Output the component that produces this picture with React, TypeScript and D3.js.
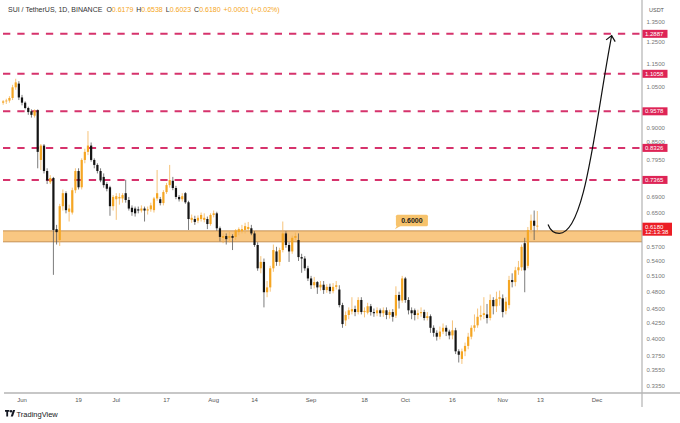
import React from 'react';
import * as d3 from 'd3';

// open, high, low, close
type Candle = [number, number, number, number];

const firstDay = new Date(2023, 4, 26);

const candlesMayJune: Candle[] = [
  [0.990, 1.000, 0.982, 0.995], [0.995, 1.005, 0.985, 0.998], [0.998, 1.015, 0.990, 1.008],
  [1.008, 1.060, 1.000, 1.050], [1.050, 1.085, 1.040, 1.070], [1.065, 1.075, 1.000, 1.010],
  [1.010, 1.020, 0.980, 0.990], [0.990, 0.995, 0.965, 0.970], [0.970, 0.975, 0.945, 0.955],
  [0.958, 0.965, 0.935, 0.945], [0.942, 0.965, 0.935, 0.960], [0.962, 0.965, 0.770, 0.820],
  [0.795, 0.845, 0.765, 0.840], [0.840, 0.845, 0.755, 0.762], [0.762, 0.770, 0.725, 0.735],
  [0.730, 0.750, 0.725, 0.742], [0.742, 0.745, 0.512, 0.608], [0.610, 0.620, 0.575, 0.603],
  [0.585, 0.672, 0.572, 0.666], [0.666, 0.710, 0.655, 0.700], [0.700, 0.705, 0.648, 0.656],
  [0.652, 0.670, 0.628, 0.660], [0.650, 0.715, 0.645, 0.708], [0.708, 0.770, 0.700, 0.762],
  [0.762, 0.770, 0.710, 0.716], [0.716, 0.800, 0.710, 0.795], [0.795, 0.830, 0.785, 0.820],
  [0.820, 0.888, 0.810, 0.840], [0.840, 0.850, 0.790, 0.795], [0.795, 0.800, 0.770, 0.780],
  [0.780, 0.785, 0.755, 0.762], [0.762, 0.770, 0.730, 0.735], [0.745, 0.755, 0.715, 0.722],
  [0.725, 0.730, 0.705, 0.712], [0.716, 0.720, 0.642, 0.666], [0.666, 0.695, 0.655, 0.690],
];

const candlesJuly: Candle[] = [
  [0.684, 0.700, 0.632, 0.692], [0.686, 0.700, 0.670, 0.690], [0.686, 0.700, 0.675, 0.695],
  [0.700, 0.737, 0.675, 0.682], [0.682, 0.690, 0.655, 0.660], [0.662, 0.668, 0.642, 0.651],
  [0.660, 0.665, 0.640, 0.648], [0.658, 0.665, 0.648, 0.655], [0.655, 0.668, 0.650, 0.660],
  [0.660, 0.665, 0.628, 0.655], [0.655, 0.665, 0.645, 0.658], [0.658, 0.675, 0.652, 0.668],
  [0.656, 0.690, 0.650, 0.686], [0.686, 0.765, 0.680, 0.700], [0.684, 0.690, 0.668, 0.674],
  [0.674, 0.708, 0.668, 0.703], [0.703, 0.728, 0.698, 0.722], [0.722, 0.780, 0.715, 0.736],
  [0.734, 0.745, 0.708, 0.714], [0.714, 0.720, 0.684, 0.690], [0.690, 0.695, 0.678, 0.684],
  [0.684, 0.700, 0.678, 0.692], [0.700, 0.703, 0.672, 0.676], [0.676, 0.680, 0.608, 0.634],
  [0.632, 0.645, 0.625, 0.637], [0.634, 0.642, 0.620, 0.627], [0.630, 0.643, 0.624, 0.637],
  [0.634, 0.650, 0.628, 0.644], [0.632, 0.648, 0.626, 0.637], [0.634, 0.640, 0.610, 0.622],
  [0.622, 0.648, 0.618, 0.644],
];

const candlesAugust: Candle[] = [
  [0.644, 0.655, 0.638, 0.648], [0.648, 0.652, 0.606, 0.612], [0.612, 0.616, 0.582, 0.592],
  [0.590, 0.600, 0.578, 0.594], [0.594, 0.600, 0.575, 0.587], [0.590, 0.605, 0.580, 0.594],
  [0.594, 0.598, 0.563, 0.590], [0.592, 0.610, 0.585, 0.607], [0.603, 0.614, 0.596, 0.610],
  [0.605, 0.620, 0.600, 0.610], [0.608, 0.625, 0.600, 0.617], [0.610, 0.627, 0.605, 0.615],
  [0.612, 0.620, 0.596, 0.600], [0.600, 0.605, 0.570, 0.574], [0.574, 0.580, 0.520, 0.525],
  [0.525, 0.550, 0.515, 0.538], [0.538, 0.545, 0.452, 0.479], [0.479, 0.500, 0.470, 0.488],
  [0.488, 0.530, 0.480, 0.525], [0.525, 0.575, 0.518, 0.563], [0.560, 0.570, 0.530, 0.538],
  [0.538, 0.568, 0.530, 0.563], [0.563, 0.628, 0.558, 0.600], [0.600, 0.605, 0.568, 0.574],
  [0.574, 0.580, 0.538, 0.560], [0.560, 0.595, 0.555, 0.590], [0.590, 0.602, 0.585, 0.594],
  [0.585, 0.600, 0.540, 0.548], [0.548, 0.555, 0.516, 0.545], [0.545, 0.550, 0.520, 0.525],
  [0.525, 0.530, 0.500, 0.505],
];

const candlesSeptember: Candle[] = [
  [0.505, 0.510, 0.485, 0.492], [0.492, 0.508, 0.486, 0.498], [0.498, 0.500, 0.476, 0.488],
  [0.488, 0.500, 0.482, 0.493], [0.493, 0.500, 0.476, 0.483], [0.483, 0.494, 0.478, 0.489],
  [0.489, 0.495, 0.476, 0.481], [0.481, 0.496, 0.477, 0.489], [0.489, 0.500, 0.484, 0.492],
  [0.484, 0.492, 0.452, 0.456], [0.456, 0.460, 0.418, 0.424], [0.430, 0.445, 0.421, 0.439],
  [0.439, 0.452, 0.432, 0.447], [0.445, 0.470, 0.440, 0.449], [0.449, 0.455, 0.437, 0.444],
  [0.444, 0.470, 0.440, 0.465], [0.465, 0.470, 0.440, 0.444], [0.444, 0.452, 0.435, 0.446],
  [0.443, 0.460, 0.440, 0.454], [0.454, 0.458, 0.438, 0.444], [0.444, 0.450, 0.436, 0.442],
  [0.442, 0.452, 0.437, 0.447], [0.447, 0.450, 0.436, 0.442], [0.442, 0.452, 0.436, 0.447],
  [0.447, 0.452, 0.432, 0.439], [0.439, 0.448, 0.433, 0.444], [0.444, 0.449, 0.428, 0.436],
  [0.438, 0.490, 0.434, 0.474], [0.474, 0.480, 0.450, 0.464], [0.464, 0.510, 0.460, 0.505],
];

const candlesOctober: Candle[] = [
  [0.505, 0.508, 0.460, 0.465], [0.465, 0.470, 0.440, 0.447], [0.447, 0.452, 0.432, 0.442],
  [0.447, 0.450, 0.430, 0.439], [0.439, 0.448, 0.432, 0.442], [0.442, 0.452, 0.436, 0.444],
  [0.444, 0.448, 0.430, 0.434], [0.434, 0.444, 0.430, 0.437], [0.437, 0.440, 0.410, 0.418],
  [0.418, 0.422, 0.404, 0.410], [0.410, 0.414, 0.398, 0.404], [0.404, 0.420, 0.400, 0.412],
  [0.412, 0.425, 0.408, 0.418], [0.418, 0.422, 0.405, 0.412], [0.412, 0.415, 0.400, 0.406],
  [0.406, 0.430, 0.400, 0.414], [0.414, 0.418, 0.378, 0.382], [0.382, 0.385, 0.366, 0.377],
  [0.371, 0.386, 0.364, 0.382], [0.382, 0.395, 0.375, 0.390], [0.390, 0.410, 0.385, 0.404],
  [0.404, 0.422, 0.400, 0.418], [0.418, 0.440, 0.412, 0.422], [0.422, 0.450, 0.418, 0.436],
  [0.436, 0.455, 0.430, 0.439], [0.439, 0.470, 0.432, 0.442], [0.440, 0.458, 0.425, 0.434],
  [0.434, 0.475, 0.430, 0.465], [0.465, 0.470, 0.440, 0.454], [0.454, 0.480, 0.444, 0.467],
  [0.467, 0.482, 0.455, 0.470],
];

const candlesNovember: Candle[] = [
  [0.468, 0.475, 0.435, 0.444], [0.446, 0.470, 0.440, 0.462], [0.456, 0.510, 0.450, 0.502],
  [0.502, 0.515, 0.488, 0.498], [0.498, 0.528, 0.490, 0.521], [0.521, 0.540, 0.512, 0.527],
  [0.527, 0.575, 0.520, 0.570], [0.578, 0.590, 0.479, 0.521], [0.530, 0.615, 0.525, 0.608],
  [0.608, 0.645, 0.600, 0.630], [0.630, 0.655, 0.585, 0.6179], [0.6179, 0.6538, 0.6023, 0.6180],
];

const candles: Candle[] = [
  ...candlesMayJune, ...candlesJuly, ...candlesAugust,
  ...candlesSeptember, ...candlesOctober, ...candlesNovember,
];

// resistance levels drawn as dashed lines
const levels = [1.2887, 1.1058, 0.9578, 0.8326, 0.7365];
const zoneLow = 0.581;
const zoneHigh = 0.606;
const zoneLabel = '0.6000';
const zoneLabelDate = '2023-09-28';

const priceTicks = [1.35, 1.25, 1.15, 1.05, 0.9, 0.85, 0.795, 0.69, 0.65, 0.57, 0.54,
  0.51, 0.48, 0.45, 0.425, 0.4, 0.375, 0.355, 0.335];

const dateTicks: [string, string][] = [
  ['2023-06-01', 'Jun'], ['2023-06-19', '19'], ['2023-07-01', 'Jul'], ['2023-07-17', '17'],
  ['2023-08-01', 'Aug'], ['2023-08-14', '14'], ['2023-09-01', 'Sep'], ['2023-09-18', '18'],
  ['2023-10-01', 'Oct'], ['2023-10-16', '16'], ['2023-11-01', 'Nov'], ['2023-11-13', '13'],
  ['2023-12-01', 'Dec'],
];

// hand drawn arrow: start, curl control, bottom, two controls, tip
const arrowStart: [string, number] = ['2023-11-15T10:00', 0.621];
const arrowCurl: [string, number] = ['2023-11-16T12:00', 0.600];
const arrowBottom: [string, number] = ['2023-11-19T00:00', 0.600];
const arrowC1: [string, number] = ['2023-11-27T08:00', 0.600];
const arrowC2: [string, number] = ['2023-11-30T12:00', 0.926];
const arrowTip: [string, number] = ['2023-12-05T16:00', 1.28];

const lastPrice = '0.6180';
const countdown = '12:13:38';

const UP = '#f5a623';
const DOWN = '#141414';
const LEVEL = '#d6336c';
const LEVEL_LABEL = '#de2456';
const FONT = '"Liberation Sans", Arial, sans-serif';

const parseDay = d3.timeParse('%Y-%m-%d');
const parseTime = d3.timeParse('%Y-%m-%dT%H:%M');

const App: React.FC = () => {
  const width = 680;
  const height = 423;
  const plotLeft = 3;
  const plotRight = 642;
  const axisY = 393;

  const x = d3.scaleTime()
    .domain([new Date(2023, 5, 1), new Date(2023, 11, 1)])
    .range([22, 597]);
  const y = d3.scaleLog().domain([0.335, 1.35]).range([385.6, 21.7]);

  const pt = (p: [string, number]): [number, number] => [x(parseTime(p[0])!), y(p[1])];

  // arrow path
  const [sx, sy] = pt(arrowStart);
  const [qx, qy] = pt(arrowCurl);
  const [bx, by] = pt(arrowBottom);
  const [c1x, c1y] = pt(arrowC1);
  const [c2x, c2y] = pt(arrowC2);
  const [tx, ty] = pt(arrowTip);
  const arrow = d3.path();
  arrow.moveTo(sx, sy);
  arrow.quadraticCurveTo(qx, qy, bx, by);
  arrow.bezierCurveTo(c1x, c1y, c2x, c2y, tx, ty);
  const back = Math.atan2(c2y - ty, c2x - tx);
  const headLen = 7;
  const headA = 0.72;
  const head = `M${tx + headLen * Math.cos(back + headA)},${ty + headLen * Math.sin(back + headA)}L${tx},${ty}L${tx + headLen * Math.cos(back - headA)},${ty + headLen * Math.sin(back - headA)}`;

  const zx = x(parseDay(zoneLabelDate)!);
  const zTop = y(zoneHigh);

  return (
    <svg width={width} height={height} style={{ position: 'absolute', left: 0, top: 0, background: '#fff' }}
      fontFamily={FONT}>
      <rect width={width} height={height} fill="#fff" />

      {/* support zone */}
      <rect x={plotLeft} y={y(zoneHigh)} width={plotRight - plotLeft} height={y(zoneLow) - y(zoneHigh)}
        fill="#f8bd6c" opacity={0.85} />
      <line x1={plotLeft} x2={plotRight} y1={y(zoneHigh)} y2={y(zoneHigh)} stroke="#b98040" strokeWidth={0.8} />
      <line x1={plotLeft} x2={plotRight} y1={y(zoneLow)} y2={y(zoneLow)} stroke="#b98040" strokeWidth={0.8} />

      {/* dashed levels */}
      {levels.map((v) => (
        <line key={v} x1={plotLeft} x2={plotRight} y1={y(v)} y2={y(v)} stroke={LEVEL}
          strokeWidth={2} strokeDasharray="7.3,7" />
      ))}

      {/* candles */}
      {candles.map((c, i) => {
        const [o, h, l, cl] = c;
        const cx = x(d3.timeDay.offset(firstDay, i));
        const up = cl >= o;
        const top = y(Math.max(o, cl));
        const bot = y(Math.min(o, cl));
        return (
          <g key={i}>
            <line x1={cx} x2={cx} y1={y(h)} y2={y(l)} stroke={up ? '#f4b457' : '#5a5a5a'} strokeWidth={0.8} />
            <rect x={cx - 1.1} y={top} width={2.2} height={Math.max(0.8, bot - top)} fill={up ? UP : DOWN} />
          </g>
        );
      })}

      {/* zone label */}
      <path d={`M${zx - 1},${zTop - 1.5}L${zx + 1},${zTop - 5}L${zx + 5},${zTop - 5}Z`} fill="#f7c36c" />
      <rect x={zx} y={zTop - 16} width={32} height={11.5} rx={1.5} fill="#f7c36c" />
      <text x={zx + 16} y={zTop - 7.8} textAnchor="middle" fontSize={7} fontWeight="bold" fill="#1a1a1a">{zoneLabel}</text>

      {/* arrow */}
      <path d={arrow.toString()} fill="none" stroke="#111" strokeWidth={1.2} />
      <path d={head} fill="none" stroke="#111" strokeWidth={1.2} />

      {/* axes lines */}
      <line x1={plotRight} x2={plotRight} y1={0} y2={407} stroke="#a3a3a3" strokeWidth={1} />
      <line x1={4} x2={width} y1={axisY} y2={axisY} stroke="#b4b4b4" strokeWidth={1.5} />

      {/* price axis */}
      <text x={649} y={12} fontSize={5.5} fill="#555">USDT</text>
      {priceTicks.map((v) => (
        <text key={v} x={646.5} y={y(v) + 2} fontSize={6} fill="#777">{v.toFixed(4)}</text>
      ))}
      {levels.map((v) => (
        <g key={v}>
          <rect x={642.5} y={y(v) - 4} width={25} height={8} fill={LEVEL_LABEL} />
          <text x={645} y={y(v) + 2.1} fontSize={6} fill="#fff">{v.toFixed(4)}</text>
        </g>
      ))}
      <rect x={642.5} y={222.7} width={29.5} height={13} fill="#ec1d25" />
      <text x={645} y={228.6} fontSize={6} fill="#fff">{lastPrice}</text>
      <text x={645} y={234.4} fontSize={6} fill="#fff">{countdown}</text>

      {/* time axis */}
      {dateTicks.map(([d, label]) => (
        <text key={d} x={x(parseDay(d)!)} y={402} fontSize={6} fill="#555" textAnchor="middle">{label}</text>
      ))}

      {/* header */}
      <text x={8} y={12} fontSize={7} fill="#333">
        <tspan>SUI / TetherUS, 1D, BINANCE</tspan>
        <tspan dx={4}>O</tspan><tspan fill={UP}>0.6179</tspan>
        <tspan dx={3}>H</tspan><tspan fill={UP}>0.6538</tspan>
        <tspan dx={3}>L</tspan><tspan fill={UP}>0.6023</tspan>
        <tspan dx={3}>C</tspan><tspan fill={UP}>0.6180</tspan>
        <tspan dx={3} fill={UP}>+0.0001 (+0.02%)</tspan>
      </text>

      {/* TradingView logo */}
      <g transform="translate(5,410)">
        <path d="M0,0H4.4V1.8H3.1V6.4H1.3V1.8H0Z" fill="#131722" />
        <circle cx={6} cy={1.3} r={1.2} fill="#131722" />
        <path d="M8,0H10.2L7.9,6.4H5.7Z" fill="#131722" />
      </g>
      <text x={16.5} y={416.5} fontSize={7.5} fill="#131722">TradingView</text>
    </svg>
  );
};

export default App;
